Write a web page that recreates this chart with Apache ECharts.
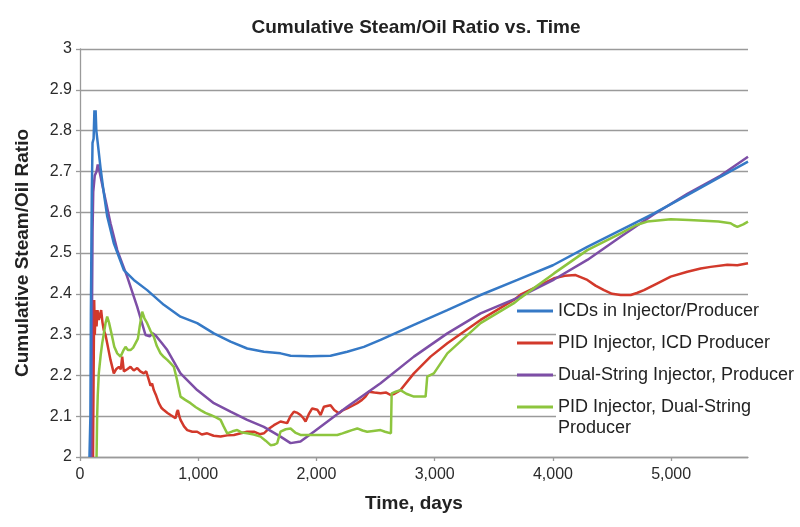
<!DOCTYPE html>
<html>
<head>
<meta charset="utf-8">
<script src="https://cdn.jsdelivr.net/npm/echarts@6/dist/echarts.min.js"></script>
<style>
  html, body { margin: 0; padding: 0; background: #fff; }
  #chart { width: 800px; height: 527px; }
</style>
</head>
<body>
<div id="chart"></div>
<script>
// ---- Data (days, cumulative steam/oil ratio) ----
const seriesNames = [
  'ICDs in Injector/Producer',
  'PID Injector, ICD Producer',
  'Dual-String Injector, Producer',
  'PID Injector, Dual-String Producer'
];
// legend text lines (the last entry wraps onto a second line)
const legendLines = [
  ['ICDs in Injector/Producer'],
  ['PID Injector, ICD Producer'],
  ['Dual-String Injector, Producer'],
  ['PID Injector, Dual-String', 'Producer']
];

const icdInjectorProducer = [
  [80, 2.0], [88, 2.1], [92, 2.35], [100, 2.65], [106, 2.77], [115, 2.78], [122, 2.85], [127, 2.81],
  [132, 2.85], [138, 2.80], [150, 2.77], [173, 2.71], [200, 2.65], [230, 2.59], [286, 2.524],
  [371, 2.458], [455, 2.434], [568, 2.409], [709, 2.373], [850, 2.344], [991, 2.328], [1132, 2.303],
  [1273, 2.283], [1414, 2.266], [1555, 2.258], [1696, 2.254], [1781, 2.248], [1950, 2.247],
  [2119, 2.248], [2260, 2.258], [2401, 2.270], [2542, 2.287], [2824, 2.324], [3107, 2.360],
  [3388, 2.397], [3700, 2.434], [4000, 2.47], [4291, 2.515], [4573, 2.556], [4855, 2.597],
  [5137, 2.642], [5419, 2.687], [5650, 2.724]
];

const pidInjectorIcdProducer = [
  [110, 2.0], [115, 2.2], [120, 2.385], [125, 2.30], [132, 2.36], [140, 2.32], [148, 2.36], [159, 2.336],
  [170, 2.35], [179, 2.36], [190, 2.33], [201, 2.311], [215, 2.30], [230, 2.279], [258, 2.238],
  [286, 2.205], [305, 2.215], [329, 2.221], [345, 2.215], [357, 2.246], [371, 2.21], [400, 2.215],
  [427, 2.221], [455, 2.212], [484, 2.218], [510, 2.21], [540, 2.205], [560, 2.21], [582, 2.189],
  [596, 2.175], [610, 2.18], [624, 2.164], [645, 2.15], [667, 2.132], [690, 2.12], [709, 2.115],
  [740, 2.108], [766, 2.103], [808, 2.095], [820, 2.11], [828, 2.115], [840, 2.1], [850, 2.091],
  [880, 2.075], [907, 2.066], [950, 2.062], [991, 2.062], [1030, 2.055], [1076, 2.058], [1130, 2.052],
  [1189, 2.05], [1245, 2.053], [1302, 2.054], [1360, 2.058], [1414, 2.062], [1471, 2.062],
  [1520, 2.056], [1555, 2.058], [1600, 2.07], [1640, 2.078], [1696, 2.087], [1752, 2.083],
  [1780, 2.1], [1809, 2.111], [1840, 2.108], [1865, 2.103], [1890, 2.095], [1908, 2.087],
  [1935, 2.105], [1964, 2.119], [2007, 2.116], [2035, 2.103], [2063, 2.123], [2090, 2.125],
  [2119, 2.127], [2150, 2.115], [2190, 2.107], [2225, 2.115], [2260, 2.119], [2300, 2.125],
  [2345, 2.132], [2385, 2.14], [2415, 2.148], [2443, 2.160], [2490, 2.158], [2542, 2.156],
  [2590, 2.158], [2627, 2.152], [2660, 2.155], [2711, 2.164], [2824, 2.205], [2965, 2.246],
  [3107, 2.279], [3388, 2.336], [3670, 2.385], [3726, 2.398], [4009, 2.438], [4100, 2.444],
  [4192, 2.446], [4291, 2.434], [4360, 2.42], [4432, 2.409], [4500, 2.40], [4573, 2.397],
  [4658, 2.397], [4710, 2.402], [4770, 2.409], [4880, 2.425], [4996, 2.442], [5137, 2.454],
  [5250, 2.462], [5334, 2.466], [5475, 2.471], [5560, 2.47], [5650, 2.475]
];

const dualStringInjectorProducer = [
  [95, 2.0], [100, 2.3], [106, 2.55], [112, 2.65], [125, 2.69], [140, 2.70], [150, 2.717],
  [165, 2.70], [190, 2.665], [216, 2.63], [258, 2.573], [315, 2.507], [399, 2.442], [484, 2.368],
  [554, 2.299], [590, 2.296], [615, 2.303], [640, 2.298], [690, 2.28], [738, 2.262], [850, 2.205],
  [991, 2.164], [1132, 2.132], [1273, 2.111], [1414, 2.091], [1555, 2.074], [1696, 2.05],
  [1781, 2.034], [1865, 2.038], [1978, 2.062], [2260, 2.123], [2542, 2.181], [2824, 2.246],
  [3107, 2.303], [3388, 2.352], [3700, 2.39], [4009, 2.435], [4291, 2.483], [4573, 2.54],
  [4855, 2.595], [5137, 2.645], [5419, 2.69], [5650, 2.736]
];

const pidInjectorDualStringProducer = [
  [140, 2.0], [145, 2.1], [150, 2.15], [159, 2.205], [175, 2.25], [188, 2.279], [200, 2.30],
  [216, 2.328], [230, 2.344], [245, 2.33], [272, 2.295], [290, 2.27], [315, 2.254], [343, 2.246],
  [365, 2.26], [385, 2.27], [405, 2.262], [427, 2.262], [450, 2.268], [470, 2.279], [490, 2.29],
  [505, 2.32], [526, 2.356], [545, 2.34], [568, 2.328], [595, 2.31], [624, 2.295], [650, 2.272],
  [681, 2.254], [710, 2.245], [738, 2.238], [765, 2.23], [794, 2.221], [820, 2.19], [850, 2.148],
  [890, 2.14], [935, 2.132], [980, 2.122], [1019, 2.115], [1060, 2.108], [1104, 2.103],
  [1150, 2.097], [1189, 2.091], [1215, 2.075], [1245, 2.058], [1290, 2.063], [1330, 2.066],
  [1370, 2.06], [1414, 2.058], [1470, 2.055], [1527, 2.05], [1570, 2.04], [1612, 2.029],
  [1640, 2.03], [1668, 2.034], [1696, 2.062], [1740, 2.068], [1781, 2.07], [1820, 2.06],
  [1865, 2.054], [1978, 2.054], [2100, 2.054], [2176, 2.054], [2220, 2.058], [2260, 2.062],
  [2300, 2.066], [2345, 2.07], [2390, 2.065], [2429, 2.062], [2480, 2.064], [2542, 2.066],
  [2580, 2.062], [2630, 2.058], [2636, 2.156], [2670, 2.16], [2711, 2.164], [2760, 2.155],
  [2824, 2.148], [2923, 2.148], [2937, 2.197], [2993, 2.205], [3107, 2.254], [3388, 2.328],
  [3670, 2.377], [3726, 2.39], [4009, 2.45], [4291, 2.507], [4573, 2.548], [4700, 2.568],
  [4799, 2.577], [4996, 2.583], [5150, 2.581], [5277, 2.579], [5400, 2.577], [5503, 2.573],
  [5530, 2.568], [5560, 2.564], [5610, 2.57], [5650, 2.577]
];

const xTickValues = [0, 1000, 2000, 3000, 4000, 5000];

const colors = ['#3579c6', '#d2392b', '#7d4ea6', '#8dc53e'];
const dataSets = [icdInjectorProducer, pidInjectorIcdProducer, dualStringInjectorProducer, pidInjectorDualStringProducer];

const sansFont = "'Liberation Sans', Arial, sans-serif";
const textColor = '#2a2a2a';
const gridColor = '#9a9a9a';

const chart = echarts.init(document.getElementById('chart'), null, { renderer: 'canvas' });

const option = {
  backgroundColor: '#ffffff',
  animation: false,
  title: {
    text: 'Cumulative Steam/Oil Ratio vs. Time',
    left: 411,
    textAlign: 'center',
    top: 13,
    textStyle: { fontFamily: sansFont, fontWeight: 'bold', fontSize: 19, color: '#222' }
  },
  grid: { left: 80, right: 52, top: 49, bottom: 70, containLabel: false },
  xAxis: {
    type: 'value',
    min: 0,
    max: 5650,
    interval: 1000,
    name: 'Time, days',
    nameLocation: 'middle',
    nameGap: 37,
    nameTextStyle: { fontFamily: sansFont, fontWeight: 'bold', fontSize: 19, color: '#222' },
    axisLine: { show: true, lineStyle: { color: gridColor, width: 1.3 } },
    axisTick: { show: true, length: 4, inside: false, customValues: xTickValues, lineStyle: { color: gridColor, width: 1.3 } },
    axisLabel: {
      customValues: xTickValues,
      margin: 10,
      fontFamily: sansFont,
      fontSize: 16,
      color: textColor,
      formatter: v => Number(v).toLocaleString('en-US')
    },
    splitLine: { show: false }
  },
  yAxis: {
    type: 'value',
    min: 2,
    max: 3,
    interval: 0.1,
    name: 'Cumulative Steam/Oil Ratio',
    nameLocation: 'middle',
    nameRotate: 90,
    nameGap: 48,
    nameTextStyle: { fontFamily: sansFont, fontWeight: 'bold', fontSize: 19, color: '#222' },
    axisLine: { show: true, lineStyle: { color: gridColor, width: 1.3 } },
    axisTick: { show: true, length: 4, inside: false, lineStyle: { color: gridColor, width: 1.3 } },
    axisLabel: {
      margin: 8,
      fontFamily: sansFont,
      fontSize: 16,
      color: textColor,
      formatter: v => String(+Number(v).toFixed(1))
    },
    splitLine: { show: true, lineStyle: { color: gridColor, width: 1.3 } }
  },
  legend: {
    data: seriesNames,
    orient: 'vertical',
    left: 517,
    top: 301,
    padding: 0,
    itemGap: 12,
    itemWidth: 36,
    itemHeight: 3,
    icon: 'rect',
    selectedMode: false,
    formatter: name => legendLines[seriesNames.indexOf(name)][0],
    textStyle: { fontFamily: sansFont, fontSize: 18, color: '#222', lineHeight: 20 }
  },
  graphic: [
    { type: 'rect', z: 1, silent: true, shape: { x: 556, y: 299, width: 192, height: 141 }, style: { fill: '#ffffff' } },
    { type: 'text', z: 5, silent: true, x: 558, y: 428,
      style: { text: legendLines[3][1], font: "18px 'Liberation Sans', Arial, sans-serif", fill: '#222', verticalAlign: 'middle', align: 'left' } }
  ],
  series: dataSets.map((d, i) => ({
    name: seriesNames[i],
    type: 'line',
    data: d,
    showSymbol: false,
    symbol: 'none',
    smooth: false,
    clip: true,
    z: 2 + (i === 0 ? 1 : 0),
    lineStyle: { color: colors[i], width: 2.5 },
    itemStyle: { color: colors[i] }
  }))
};

chart.setOption(option);
</script>
</body>
</html>
